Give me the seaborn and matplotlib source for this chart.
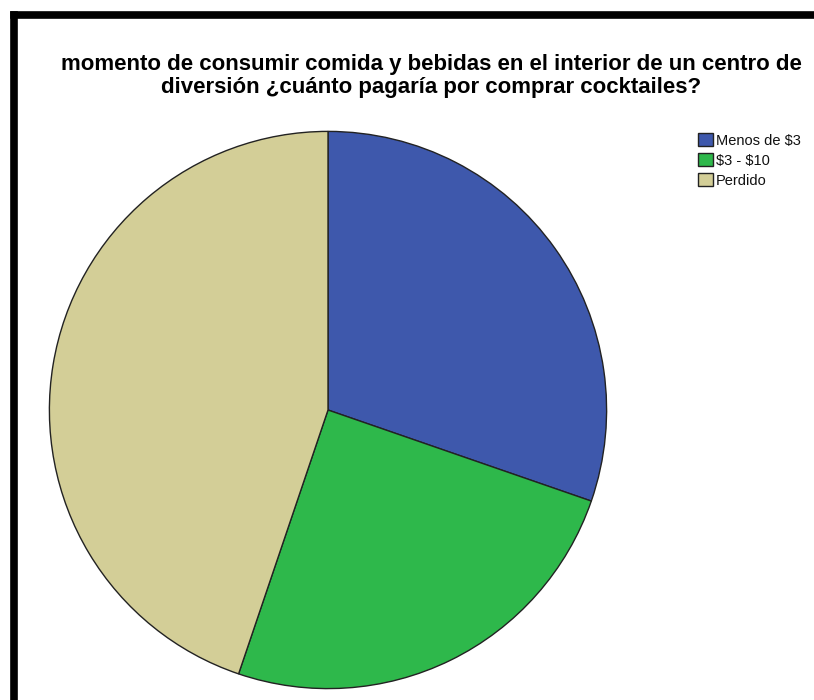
import numpy as np
import matplotlib
matplotlib.use("Agg")
import matplotlib.pyplot as plt
import seaborn as sns

# datos
categorias = ["Menos de \\$3", "\\$3 - \\$10", "Perdido"]
porcentajes = [30.3, 24.9, 44.8]
colores = ["#3E58AC", "#2EB84B", "#D3CE97"]
titulo = ("momento de consumir comida y bebidas en el interior de un centro de\n"
          "diversión ¿cuánto pagaría por comprar cocktailes?")

sns.set_theme(style="white")
plt.rcParams['font.family'] = ['Liberation Sans', 'DejaVu Sans']

fig = plt.figure(figsize=(8.14, 7.0), dpi=100)

# marco negro (arriba e izquierda)
fig.add_artist(plt.Line2D([14/814, 14/814], [0, 1 - 15/700], color="black", lw=5.5,
                          transform=fig.transFigure, solid_capstyle="projecting"))
fig.add_artist(plt.Line2D([14/814, 1], [1 - 15/700, 1 - 15/700], color="black", lw=5.5,
                          transform=fig.transFigure, solid_capstyle="projecting"))

# pastel
ax = fig.add_axes([48/814, 10/700, 560/814, 560/700])
wedges, _ = ax.pie(porcentajes, colors=colores, startangle=90, counterclock=False,
                   radius=1, wedgeprops=dict(edgecolor="#222222", linewidth=1.0))
ax.set_xlim(-1.005, 1.005)
ax.set_ylim(-1.005, 1.005)
ax.set_aspect("equal")
ax.axis("off")

fig.text(431/814, 1 - 76/700, titulo, ha="center", va="center", fontsize=16,
         fontweight="bold", linespacing=1.1, color="black")

leg = fig.legend(wedges, categorias, loc="upper left", bbox_to_anchor=(698/814, 1 - 133/700),
                 frameon=False, fontsize=10.5, handlelength=1.0, handleheight=1.0,
                 handletextpad=0.2, labelspacing=0.38, borderpad=0, borderaxespad=0,
                 labelcolor="#111111")
for h in leg.legend_handles:
    h.set_edgecolor("#222222")

fig.savefig("out.png", dpi=100, facecolor="white")
